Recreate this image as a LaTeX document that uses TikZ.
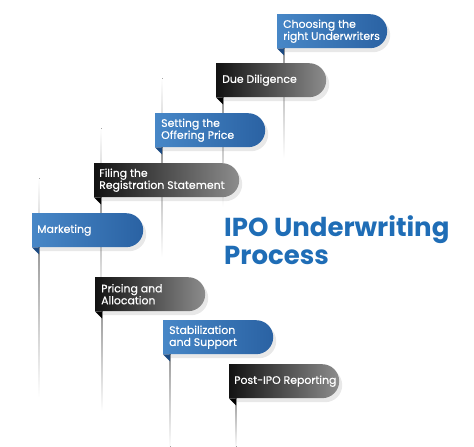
\documentclass[tikz,border=0pt]{standalone}
\usepackage{fontspec}
\setmainfont{Poppins}
\newfontfamily\bannerfont{Poppins}[FakeBold=0.5]
\usetikzlibrary{shapes.misc, shadows, positioning, backgrounds}

\definecolor{ipoblue}{HTML}{1F6DB6}
\definecolor{bluelight}{HTML}{4787C7}
\definecolor{bluedark}{HTML}{2A62A3}
\definecolor{bluefold}{HTML}{1B4A82}

\begin{document}
\begin{tikzpicture}[
                x=1pt, y=-1pt,
                banner/.style={rounded rectangle, rounded rectangle west arc=none,
                    anchor=north west, minimum height=34pt, minimum width=110pt,
                    inner sep=0pt,
                    drop shadow={opacity=0.18, shadow xshift=3pt, shadow yshift=-4pt}},
                bluebanner/.style={banner, left color=bluelight, right color=bluedark},
                darkbanner/.style={banner, left color=black!93, middle color=black!85, right color=black!45},
                bannertext/.style={inner sep=0pt, text=white, align=left,
                    font=\bannerfont\fontsize{10.9}{12}\selectfont},
                stem/.style={top color=black!40, bottom color=white},
                glow/.style={top color=white, bottom color=black!12},
                title/.style={anchor=north west, inner sep=0pt, align=left, text=ipoblue,
                    font=\fontsize{26}{28.5}\selectfont\bfseries}
            ]
                \useasboundingbox (0,0) rectangle (474,447);

                % Banners
                \node[bluebanner] (under) at (277,14) {};
                \node[darkbanner] (dilig) at (216,63) {};
                \node[bluebanner] (offer) at (155,113) {};
                \node[darkbanner, minimum width=145pt] (filing) at (94,163) {};
                \node[bluebanner, minimum width=111pt] (market) at (32,213) {};
                \node[darkbanner] (alloc) at (95,277) {};
                \node[bluebanner] (stab) at (163,320) {};
                \node[darkbanner] (report) at (229,364) {};

                % Texts
                \node[bannertext, right=6pt of under.west] (underT) {Choosing the\\right Underwriters};
                \node[bannertext, right=6pt of dilig.west] (diligT) {Due Diligence};
                \node[bannertext, right=6pt of offer.west] (offerT) {Setting the\\Offering Price};
                \node[bannertext, right=5pt of filing.west] (filingT) {Filing the\\Registration Statement};
                \node[bannertext, right=5pt of market.west] (marketT) {Marketing};
                \node[bannertext, right=6pt of alloc.west] (allocT) {Pricing and\\Allocation};
                \node[bannertext, right=6pt of stab.west] (stabT) {Stabilization\\and Support};
                \node[bannertext, right=5pt of report.west] (reportT) {Post-IPO Reporting};

                \node[title] (head) at (224,215) {IPO Underwriting\\Process};

                % Folds
                \fill[bluefold] (under.south west) -- ++(7,0) -- ++(0,7) -- cycle;
                \fill[black] (dilig.south west) -- ++(7,0) -- ++(0,7) -- cycle;
                \fill[bluefold] (offer.south west) -- ++(7,0) -- ++(0,7) -- cycle;
                \fill[black] (filing.south west) -- ++(7,0) -- ++(0,7) -- cycle;
                \fill[bluefold] (market.south west) -- ++(7,0) -- ++(0,7) -- cycle;
                \fill[black] (alloc.south west) -- ++(7,0) -- ++(0,7) -- cycle;
                \fill[bluefold] (stab.south west) -- ++(7,0) -- ++(0,7) -- cycle;
                \fill[black] (report.south west) -- ++(7,0) -- ++(0,7) -- cycle;

                % Stems
                \begin{scope}[on background layer]
                    \fill[stem] ([xshift=6pt]under.south west) rectangle ++(1.5,110);
                    \fill[stem] ([xshift=6pt]dilig.south west) rectangle ++(1.5,110);
                    \fill[stem] ([xshift=6pt]offer.south west) rectangle ++(1.5,110);
                    \fill[stem] ([xshift=6pt]filing.south west) rectangle ++(1.5,110);
                    \fill[stem] ([xshift=6pt]market.south west) rectangle ++(1.5,150);
                    \fill[stem] ([xshift=6pt]alloc.south west) rectangle ++(1.5,100);
                    \fill[stem] ([xshift=6pt]stab.south west) rectangle ++(1.5,94);
                    \fill[stem] ([xshift=6pt]report.south west) rectangle ++(1.5,50);
                    \fill[glow] ([xshift=6pt]offer.north west) rectangle ++(1.5,-35);
                    \fill[glow] ([xshift=6pt]filing.north west) rectangle ++(1.5,-35);
                    \fill[glow] ([xshift=6pt]market.north west) rectangle ++(1.5,-35);
                \end{scope}
            \end{tikzpicture}
\end{document}
